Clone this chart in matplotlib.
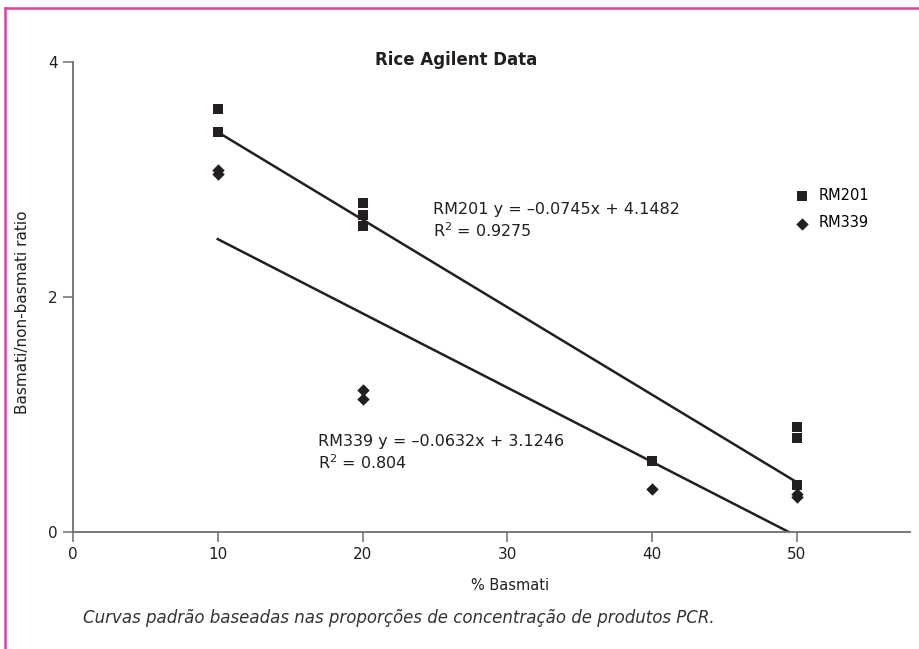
import matplotlib
matplotlib.use('Agg')
import matplotlib.pyplot as plt
from matplotlib.lines import Line2D
import numpy as np

plt.rcParams['font.family'] = ['DejaVu Sans']
plt.rcParams['mathtext.default'] = 'regular'

# data
rm201_x = [10, 10, 20, 20, 20, 40, 50, 50, 50]
rm201_y = [3.6, 3.4, 2.8, 2.7, 2.6, 0.6, 0.89, 0.8, 0.4]
rm339_x = [10, 10, 20, 20, 40, 50, 50]
rm339_y = [3.05, 3.08, 1.21, 1.13, 0.37, 0.30, 0.32]

# trendlines as printed on the chart
fit_names = ['RM201', 'RM339']
fit_slope = [-0.0745, -0.0632]
fit_icpt = [4.1482, 3.1246]
fit_r2 = ['0.9275', '0.804']
fit_range = [10, 50]

x_ticks = [0, 10, 20, 30, 40, 50]
y_ticks = [0, 2, 4]

INK = '#231f20'
AXC = '#6d6e70'
PINK = '#d9459a'

fig = plt.figure(figsize=(9.19, 6.49), dpi=100)
ax = fig.add_axes([0.0794, 0.1803, 0.9106, 0.7242])

ax.scatter(rm201_x, rm201_y, marker='s', s=55, color=INK, lw=0, zorder=3, label='RM201')
ax.scatter(rm339_x, rm339_y, marker='D', s=40, color=INK, lw=0, zorder=3, label='RM339')

xr = np.array(fit_range, dtype=float)
for m, b in zip(fit_slope, fit_icpt):
    ax.plot(xr, m * xr + b, color=INK, lw=1.8, zorder=2)

# equation labels
ax.text(24.9, 2.645, f'{fit_names[0]} y = \u2013{abs(fit_slope[0]):.4f}x + {fit_icpt[0]:.4f}\nR$^2$ = {fit_r2[0]}',
        fontsize=11.5, color=INK, va='center', ha='left', linespacing=1.3)
ax.text(16.9, 0.67, f'{fit_names[1]} y = \u2013{abs(fit_slope[1]):.4f}x + {fit_icpt[1]:.4f}\nR$^2$ = {fit_r2[1]}',
        fontsize=11.5, color=INK, va='center', ha='left', linespacing=1.3)

ax.set_xlim(0, 57.8)
ax.set_ylim(0, 4)
ax.set_xticks(x_ticks)
ax.set_yticks(y_ticks)
for s in ['top', 'right']:
    ax.spines[s].set_visible(False)
for s in ['left', 'bottom']:
    ax.spines[s].set_color(AXC)
    ax.spines[s].set_linewidth(1.3)
ax.tick_params(colors=AXC, labelcolor=INK, labelsize=11, length=7, width=1.1, pad=4)

ax.set_xlabel('% Basmati', fontsize=10.5, color=INK)
ax.xaxis.set_label_coords(0.522, -0.098)
ax.set_ylabel('Basmati/non-basmati ratio', fontsize=11, color=INK)
ax.yaxis.set_label_coords(-0.051, 0.468)

ax.legend(loc='upper left', bbox_to_anchor=(0.863, 0.732), frameon=False, fontsize=10.5,
          handlelength=1.0, handletextpad=0.6, labelspacing=0.85, borderpad=0, borderaxespad=0,
          scatterpoints=1)

fig.text(456 / 919, 1 - 60 / 649, 'Rice Agilent Data', fontsize=12, fontweight='bold',
         color=INK, ha='center', va='center')
fig.text(83 / 919, 1 - 618 / 649,
         'Curvas padr\u00e3o baseadas nas propor\u00e7\u00f5es de concentra\u00e7\u00e3o de produtos PCR.',
         fontsize=12, style='italic', color='#333333', ha='left', va='center')

# pink page frame (left and top edges)
fig.add_artist(Line2D([5 / 919, 5 / 919], [0, 1 - 7.5 / 649], transform=fig.transFigure, color=PINK, lw=1.8))
fig.add_artist(Line2D([5 / 919, 1], [1 - 7.5 / 649, 1 - 7.5 / 649], transform=fig.transFigure, color=PINK, lw=1.8))

fig.savefig('out.png', dpi=100)
